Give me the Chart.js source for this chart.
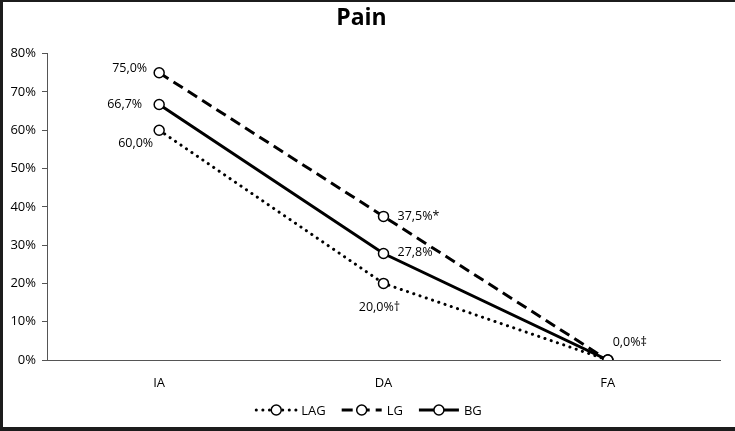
<!DOCTYPE html>
<html>
<head>
<meta charset="utf-8">
<script src="https://cdn.jsdelivr.net/npm/chart.js@4.4.1/dist/chart.umd.min.js"></script>
<style>
  html, body { margin: 0; padding: 0; background: #fff; overflow: hidden; }
  #frame {
    width: 735px; height: 431px; box-sizing: border-box;
    border-top: 2px solid #1c1c1c; border-left: 3px solid #1c1c1c; border-bottom: 4px solid #1c1c1c;
    position: relative;
  }
  #wrap { width: 732px; height: 425px; }
</style>
</head>
<body>
<div id="frame"><div id="wrap"><canvas id="painChart"></canvas></div></div>
<script>
// dados
const categorias = ['IA', 'DA', 'FA'];
const seriesNomes = ['LAG', 'LG', 'BG'];
const valoresLAG = [60.0, 20.0, 0.0];
const valoresLG = [75.0, 37.5, 0.0];
const valoresBG = [66.7, 27.8, 0.0];
const marcasLAG = ['', '†', ''];
const marcasLG = ['', '*', ''];
const marcasBG = ['', '', '‡'];
const ticksY = [0, 10, 20, 30, 40, 50, 60, 70, 80];

const FONTE = "'Open Sans', 'DejaVu Sans', sans-serif";
const COR = '#000';

// posição de cada rótulo em relação ao ponto: [dx, dy, align]
const posRotulos = [
    [[-6, 13, 'right'], [-4, 24, 'center'], null],
    [[-12, -4, 'right'], [14, 0, 'left'], null],
    [[-17, 0, 'right'], [14, -1, 'left'], [22, -18, 'center']]
];

function formatar(v, marca) {
    return v.toFixed(1).replace('.', ',') + '%' + marca;
}

const rotulosPlugin = {
    id: 'rotulos',
    afterDatasetsDraw(chart) {
        const ctx = chart.ctx;
        const marcas = [marcasLAG, marcasLG, marcasBG];
        ctx.save();
        ctx.font = '12.5px ' + FONTE;
        ctx.fillStyle = COR;
        ctx.textBaseline = 'middle';
        chart.data.datasets.forEach((ds, i) => {
            const meta = chart.getDatasetMeta(i);
            meta.data.forEach((pt, j) => {
                const p = posRotulos[i][j];
                if (!p) return;
                ctx.textAlign = p[2];
                ctx.fillText(formatar(ds.data[j], marcas[i][j]), pt.x + p[0], pt.y + p[1]);
            });
        });
        ctx.restore();
    }
};

// legenda com amostra de linha + marcador
const legendaPlugin = {
    id: 'legendaLinhas',
    afterDraw(chart) {
        const ctx = chart.ctx;
        const amostra = 40, gapTexto = 5, gapItem = 16;
        ctx.save();
        ctx.font = '13px ' + FONTE;
        const larguras = seriesNomes.map(n => amostra + gapTexto + ctx.measureText(n).width);
        const total = larguras.reduce((a, b) => a + b, 0) + gapItem * (seriesNomes.length - 1);
        let x = (chart.width - total) / 2;
        const y = 408;
        chart.data.datasets.forEach((ds, i) => {
            ctx.strokeStyle = COR;
            ctx.lineWidth = ds.borderWidth;
            ctx.lineCap = ds.borderCapStyle || 'butt';
            ctx.setLineDash(ds.borderDash || []);
            ctx.beginPath();
            ctx.moveTo(x, y);
            ctx.lineTo(x + amostra, y);
            ctx.stroke();
            ctx.setLineDash([]);
            ctx.beginPath();
            ctx.arc(x + amostra / 2, y, 5, 0, Math.PI * 2);
            ctx.fillStyle = '#fff';
            ctx.fill();
            ctx.lineWidth = 1.5;
            ctx.stroke();
            ctx.fillStyle = COR;
            ctx.textAlign = 'left';
            ctx.textBaseline = 'middle';
            ctx.fillText(seriesNomes[i], x + amostra + gapTexto, y + 1);
            x += larguras[i] + gapItem;
        });
        ctx.restore();
    }
};

function serie(nome, dados, dash, cap) {
    return {
        label: nome,
        data: dados,
        borderColor: COR,
        borderWidth: 3,
        borderDash: dash,
        borderCapStyle: cap,
        pointRadius: 5,
        pointBorderWidth: 1.5,
        pointBackgroundColor: '#fff',
        pointBorderColor: COR,
        tension: 0
    };
}

const ctx = document.getElementById('painChart').getContext('2d');
new Chart(ctx, {
    type: 'line',
    data: {
        labels: categorias,
        datasets: [
            serie('LAG', valoresLAG, [0.1, 6.5], 'round'),
            serie('LG', valoresLG, [11, 6], 'butt'),
            serie('BG', valoresBG, [], 'butt')
        ]
    },
    options: {
        responsive: true,
        maintainAspectRatio: false,
        animation: false,
        layout: { padding: { left: 0, right: 15, top: 0, bottom: 0 } },
        plugins: {
            legend: { display: false },
            tooltip: { enabled: false },
            title: {
                display: true,
                text: 'Pain',
                color: COR,
                font: { family: FONTE, size: 23, weight: 'bold' },
                padding: { top: 3, bottom: 21 }
            }
        },
        scales: {
            x: {
                offset: true,
                grid: { display: false },
                border: { display: true, color: '#555', width: 1 },
                ticks: { color: COR, font: { family: FONTE, size: 13 }, padding: 7 },
                afterFit(scale) { scale.height = 67; }
            },
            y: {
                min: 0,
                max: 80,
                afterBuildTicks(scale) { scale.ticks = ticksY.map(v => ({ value: v })); },
                grid: { drawOnChartArea: false, drawTicks: true, tickLength: 5, color: '#555' },
                border: { display: true, color: '#555', width: 1 },
                ticks: {
                    color: COR,
                    font: { family: FONTE, size: 13 },
                    padding: 6,
                    callback: v => v + '%'
                },
                afterFit(scale) { scale.width = 44; }
            }
        }
    },
    plugins: [rotulosPlugin, legendaPlugin]
});
</script>
</body>
</html>
